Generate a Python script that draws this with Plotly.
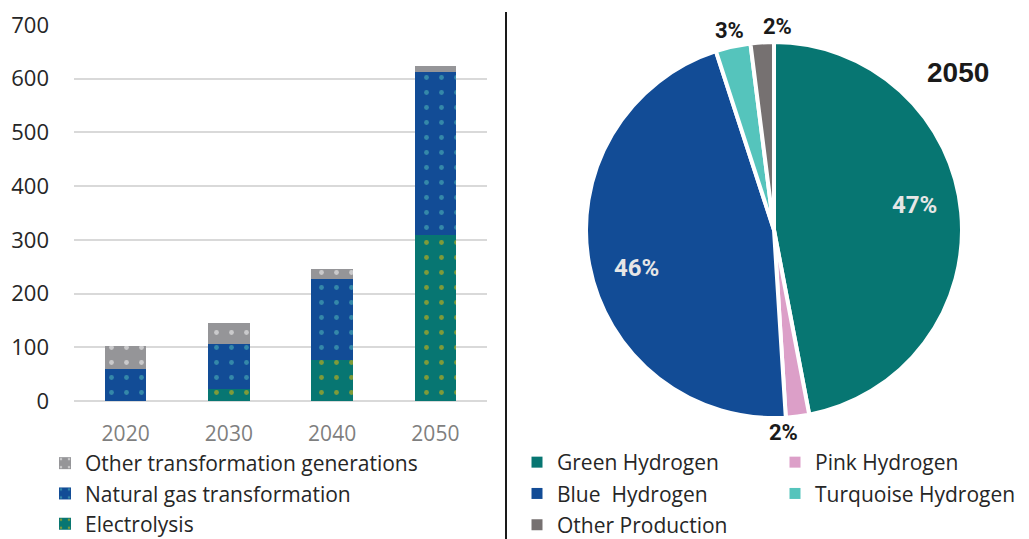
import numpy as np
import plotly.graph_objects as go

years = ["2020", "2030", "2040", "2050"]
electrolysis = [0, 22, 76, 309]
natural_gas = [60, 85, 151, 303]
other_transf = [43, 39, 19, 12]

pie_labels = ["Green Hydrogen", "Pink Hydrogen", "Blue  Hydrogen", "Turquoise Hydrogen", "Other Production"]
pie_values = [47, 2, 46, 3, 2]
pie_colors = ["#077672", "#dc9fc8", "#124c96", "#55c4bc", "#767171"]

W, H = 1029, 539
FONT = "Open Sans"
TXT = "#262626"

fig = go.Figure()

# stacked bars (bottom to top), dotted fill; legend lists them top to bottom
bar_specs = [
    ("Electrolysis", electrolysis, "#077672", "#f5c000", 3),
    ("Natural gas transformation", natural_gas, "#124c96", "#55c4bc", 2),
    ("Other transformation generations", other_transf, "#959598", "#ffffff", 1),
]
for name, vals, col, dot, rank in bar_specs:
    fig.add_trace(go.Bar(
        x=years, y=vals, name=name, legend="legend", legendgroup=name, legendrank=rank,
        marker=dict(color=col, line=dict(width=0),
                    pattern=dict(shape=".", fgcolor=dot, bgcolor=col, size=15, solidity=0.08)),
    ))

# pie placement (pixels)
cx, cy, r = 774, 230, 188
fig.add_trace(go.Pie(
    labels=pie_labels, values=pie_values, sort=False, direction="clockwise", rotation=0,
    marker=dict(colors=pie_colors, line=dict(color="white", width=4)),
    textinfo="none", showlegend=False, hoverinfo="label+percent",
    domain=dict(x=[(cx - r) / W, (cx + r) / W], y=[1 - (cy + r) / H, 1 - (cy - r) / H]),
))

# legend entries for the pie, split into two columns
col1 = [0, 2, 4]
col2 = [1, 3]
for idx_list, lg in ((col1, "legend2"), (col2, "legend3")):
    for i in idx_list:
        fig.add_trace(go.Scatter(
            x=[None], y=[None], mode="markers", name=pie_labels[i], legend=lg,
            legendgroup=pie_labels[i], hoverinfo="skip",
            marker=dict(symbol="square", size=11, color=pie_colors[i]),
        ))

# percentage labels on the pie
vals = np.array(pie_values, dtype=float)
pct = np.round(vals / vals.sum() * 100).astype(int)
mid = np.radians((np.cumsum(vals) - vals / 2) / vals.sum() * 360)
out_anchor = {1: "right", 3: "center", 4: "left"}
annots = []
for i, a in enumerate(mid):
    if vals[i] >= 10:
        a = a - np.radians(4.5)
        d, color, size, xa = 0.76 * r, "#e6e6e6", 24, "center"
    else:
        d, color, size, xa = r + 16, "#1a1a1a", 22, out_anchor[i]
    px_ = cx + d * np.sin(a)
    py_ = cy - d * np.cos(a)
    annots.append(dict(text=f"<b>{pct[i]}%</b>", x=px_ / W, y=1 - py_ / H, xref="paper", yref="paper",
                       xanchor=xa, yanchor="middle", showarrow=False,
                       font=dict(family="Roboto", size=size, color=color)))
annots.append(dict(text="<b>2050</b>", x=958 / W, y=1 - 72 / H, xref="paper", yref="paper",
                   xanchor="center", yanchor="middle", showarrow=False,
                   font=dict(family="Liberation Sans", size=28, color="#1a1a1a")))

legend_common = dict(yanchor="top", xanchor="left", font=dict(size=21, color=TXT, family=FONT),
                     bgcolor="rgba(0,0,0,0)", traceorder="grouped")

fig.update_layout(
    width=W, height=H,
    barmode="stack", bargap=0.6,
    plot_bgcolor="white", paper_bgcolor="white",
    margin=dict(l=0, r=0, t=0, b=0, autoexpand=False),
    font=dict(family=FONT, color=TXT),
    xaxis=dict(domain=[74 / W, 487 / W], showgrid=False, showline=False, ticks="",
               tickfont=dict(size=21, color="#7f7f7f"), ticklabelstandoff=18),
    yaxis=dict(domain=[1 - 401 / H, 1 - 25 / H], range=[0, 700], dtick=100,
               showgrid=True, gridcolor="#d9d9d9", gridwidth=2,
               zeroline=True, zerolinecolor="#d9d9d9", zerolinewidth=2,
               tickfont=dict(size=22, color=TXT), ticklabelstandoff=24),
    legend=dict(x=45 / W, y=1 - 443 / H, tracegroupgap=0, **legend_common),
    legend2=dict(x=517 / W, y=1 - 442 / H, tracegroupgap=1, **legend_common),
    legend3=dict(x=775 / W, y=1 - 442 / H, tracegroupgap=1, **legend_common),
    annotations=annots,
    shapes=[dict(type="line", xref="paper", yref="paper", x0=506 / W, x1=506 / W, y0=0, y1=1 - 12 / H,
                 line=dict(color="#1a1a1a", width=2))],
)

fig.write_html("out.html", config={"displayModeBar": False},
               post_script="document.body.style.margin='0';")
